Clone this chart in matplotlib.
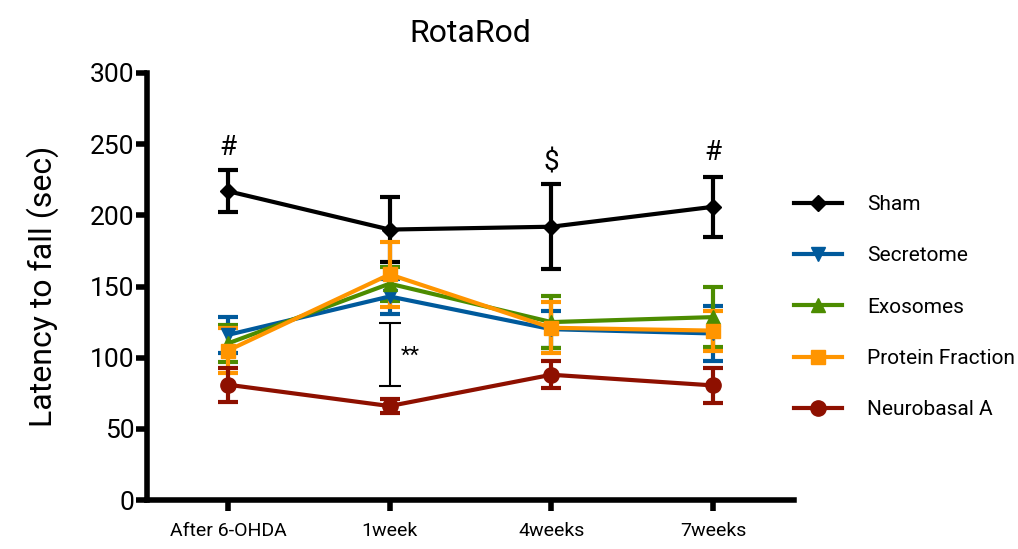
import matplotlib
matplotlib.use("Agg")
import matplotlib.pyplot as plt
from matplotlib.lines import Line2D

plt.rcParams["font.family"] = ["Roboto", "DejaVu Sans"]

timepoints = ["After 6-OHDA", "1week", "4weeks", "7weeks"]
groups = ["Sham", "Secretome", "Exosomes", "Protein Fraction", "Neurobasal A"]

sham_mean = [217, 190, 192, 206]
sham_sem = [15, 23, 30, 21]
secretome_mean = [116, 143, 120, 117]
secretome_sem = [12.5, 12, 13, 19.5]
exosomes_mean = [110, 152, 125, 128.5]
exosomes_sem = [13, 12, 18, 21]
protein_mean = [105, 158.5, 121, 119]
protein_sem = [16, 23, 18, 14]
neurobasal_mean = [81, 66, 88, 80.5]
neurobasal_sem = [12, 5, 9.5, 12.5]

means = [sham_mean, secretome_mean, exosomes_mean, protein_mean, neurobasal_mean]
sems = [sham_sem, secretome_sem, exosomes_sem, protein_sem, neurobasal_sem]
colors = ["#000000", "#005A9C", "#4C8C00", "#FF9500", "#8E1000"]
markers = ["D", "v", "^", "s", "o"]
msizes = [8, 10, 10, 10, 11]

# significance marks above sham
sig_labels = ["#", "", "$", "#"]
sig_y = [248, 0, 237, 244]
# ** bracket at 1week (low / high)
bracket_lo, bracket_hi = 80, 124.6

fig = plt.figure(figsize=(10.18, 5.49), dpi=100)
ax = fig.add_axes([147 / 1018, 1 - 500 / 549, (794 - 147) / 1018, (500 - 73) / 549])

x = list(range(len(timepoints)))
handles = []
for name, m, s, c, mk, ms in zip(groups, means, sems, colors, markers, msizes):
    ax.errorbar(x, m, yerr=s, color=c, marker=mk, markersize=ms, linewidth=3,
                elinewidth=3, capsize=7, capthick=3)
    handles.append(Line2D([], [], color=c, marker=mk, markersize=ms, linewidth=3, label=name))

ax.errorbar([1], [(bracket_lo + bracket_hi) / 2], yerr=[(bracket_hi - bracket_lo) / 2],
            fmt="none", ecolor="black", elinewidth=1.5, capsize=8, capthick=1.5)
ax.text(1.07, 101, "**", fontsize=16, ha="left", va="center")

for xi, lab, yv in zip(x, sig_labels, sig_y):
    if lab:
        ax.text(xi, yv, lab, fontsize=20, ha="center", va="center")

ax.set_xlim(-0.5, 3.5)
ax.set_ylim(0, 300)
ax.set_yticks(range(0, 301, 50))
ax.set_xticks(x)
ax.set_xticklabels(timepoints, fontsize=14)
ax.tick_params(axis="y", labelsize=19, width=4, length=8, pad=1)
ax.tick_params(axis="x", width=4, length=8, pad=8)
for sp in ["top", "right"]:
    ax.spines[sp].set_visible(False)
for sp in ["left", "bottom"]:
    ax.spines[sp].set_linewidth(4)
ax.set_ylabel("Latency to fall (sec)", fontsize=23, labelpad=22)
ax.set_title("RotaRod", fontsize=23, pad=22)

ax.legend(handles=handles, loc="upper left", bbox_to_anchor=(1.0, 0.714), frameon=False,
          fontsize=15, labelspacing=1.55, handlelength=2.3, handletextpad=1.2,
          borderpad=0, borderaxespad=0)

fig.savefig("out.png", dpi=100)
